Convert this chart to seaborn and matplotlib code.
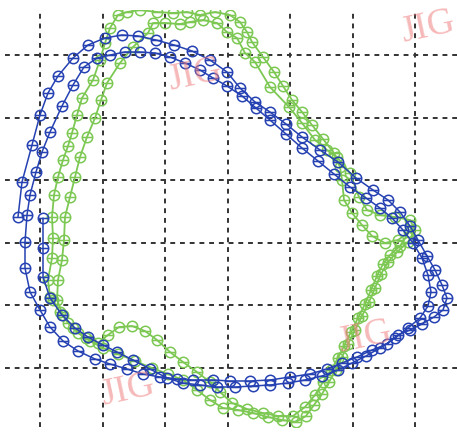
import numpy as np
import matplotlib
matplotlib.use("Agg")
import matplotlib.pyplot as plt
import seaborn as sns
from matplotlib.path import Path

# coordinates (x to the right, y downwards, grid step 62.5)
blue_x = [43, 43, 43, 50, 62, 75, 88, 103, 117, 133, 150, 167, 183, 200, 217, 235, 253, 270, 288, 305,
          322, 338, 352, 366, 380, 395, 408, 420, 428, 431, 428, 422, 413, 403, 392, 380, 366, 350, 334, 318,
          302, 286, 270, 256, 242, 227, 213, 200, 185, 170, 155, 140, 125, 110, 97, 84, 73, 62, 50, 42,
          36, 30, 27, 25,
          25, 30, 40, 50, 63, 78, 95, 110, 127, 143, 160, 177, 193, 213, 230, 250, 270, 290, 310, 327,
          342, 357, 372, 387, 398, 410, 422, 434, 443, 447, 442, 435, 427, 418, 410, 400, 388, 373, 356, 338,
          320, 302, 286, 270, 255, 240, 227, 210, 192, 174, 156, 138, 122, 105, 88, 73, 58, 48, 40, 32,
          22, 18]
blue_y = [218, 248, 277, 298, 315, 328, 337, 345, 352, 360, 369, 378, 383, 385, 387, 387, 386, 385, 383, 380,
          376, 370, 363, 356, 348, 338, 328, 318, 306, 292, 275, 258, 243, 230, 218, 208, 198, 187, 174, 161,
          148, 134, 120, 108, 96, 86, 78, 70, 63, 57, 53, 52, 52, 55, 58, 67, 85, 106, 132, 152,
          172, 195, 215, 242,
          268, 292, 310, 327, 341, 351, 359, 364, 369, 374, 377, 379, 380, 380, 381, 381, 380, 377, 374, 369,
          363, 357, 350, 344, 335, 330, 324, 317, 310, 298, 285, 270, 256, 240, 226, 212, 200, 190, 178, 162,
          150, 137, 124, 112, 102, 88, 72, 60, 51, 45, 40, 36, 35, 38, 45, 58, 76, 93, 115, 145,
          182, 217]

green_x = [50, 48, 52, 53, 52, 54, 58, 63, 68, 72, 77, 82, 93, 100, 105, 110, 118, 127, 140, 157,
           173, 187, 200, 215, 230, 240, 247, 252, 263, 274, 283, 292, 302, 312, 323, 334, 340, 342, 344, 352,
           362, 372, 385, 398, 409, 400, 390, 383, 377, 371, 365, 358, 351, 344, 338, 331, 323, 315, 305, 293,
           278, 263, 247, 232, 220, 210, 197, 183, 170, 157, 145, 132, 119, 108, 98, 86, 73, 63, 57,
           58, 62, 64, 65, 70, 75, 80, 87, 95, 101, 107, 120, 133, 148, 153, 165, 180, 190, 203, 217,
           227, 237, 245, 255, 270, 289, 302, 315, 327, 337, 350, 359, 367, 380, 395, 410, 415, 408, 397, 388,
           381, 375, 369, 362, 355, 348, 342, 336, 329, 322, 314, 306, 296, 282, 268, 253, 238, 223, 210, 197,
           183, 168, 152, 135, 118, 103, 90, 78, 68, 60, 53]
green_y = [297, 280, 258, 238, 217, 195, 177, 160, 146, 133, 115, 98, 80, 60, 43, 28, 15, 12, 10, 12,
           13, 12, 15, 12, 15, 22, 32, 42, 57, 72, 86, 100, 112, 125, 139, 153, 167, 180, 200, 213,
           225, 236, 243, 240, 232, 246, 255, 264, 276, 290, 304, 318, 332, 346, 358, 370, 382, 395, 407, 416,
           416, 413, 409, 403, 392, 382, 372, 362, 352, 340, 331, 326, 327, 335, 343, 338, 328, 315, 300,
           280, 260, 240, 217, 197, 177, 157, 137, 118, 100, 83, 63, 47, 33, 23, 23, 24, 22, 20, 23,
           32, 38, 53, 62, 87, 107, 123, 140, 150, 157, 173, 197, 210, 215, 217, 220, 230, 242, 252, 262,
           274, 288, 302, 316, 330, 344, 357, 370, 382, 394, 405, 416, 422, 420, 417, 413, 410, 408, 400, 390,
           380, 374, 368, 361, 354, 348, 341, 333, 323, 312, 300]

grid_x = [40, 102.5, 165, 227.5, 290, 352.5, 415]
grid_y = [55, 117.5, 180, 242.5, 305, 367.5]

marks_x = [428, 195, 128, 365]
marks_y = [27, 75, 390, 337]

sns.set_style("white")

# circle with a bar through it
ring = Path.make_compound_path(Path.unit_circle(),
                               Path([[-1, 0], [1, 0]], [Path.MOVETO, Path.LINETO]))

fig = plt.figure(figsize=(4.57, 4.37), dpi=100)
ax = fig.add_axes([5/457, 10/437, 452/457, 417/437])

sns.lineplot(x=green_x, y=green_y, sort=False, estimator=None, ax=ax, color="#7cc853",
             lw=1.3, marker=ring, markersize=7.5, markerfacecolor="none",
             markeredgecolor="#7cc853", markeredgewidth=1.1, zorder=3)
sns.lineplot(x=blue_x, y=blue_y, sort=False, estimator=None, ax=ax, color="#2541b2",
             lw=1.1, marker=ring, markersize=7.5, markerfacecolor="none",
             markeredgecolor="#2541b2", markeredgewidth=1.1, zorder=4)

ax.set_xlim(5, 457)
ax.set_ylim(427, 10)
ax.set_xticks(grid_x)
ax.set_yticks(grid_y)
ax.set_xticklabels([])
ax.set_yticklabels([])
ax.tick_params(length=0)
ax.grid(True, color="#333333", ls=(0, (2.5, 2.5)), lw=1.4)
ax.set_axisbelow(True)
for s in ax.spines.values():
    s.set_visible(False)

for mx, my in zip(marks_x, marks_y):
    ax.text(mx, my, "JIG", ha="center", va="center", fontsize=27, rotation=12,
            family="Liberation Serif", color="#f08080", alpha=0.55, zorder=5)

fig.savefig("out.png", dpi=100)
